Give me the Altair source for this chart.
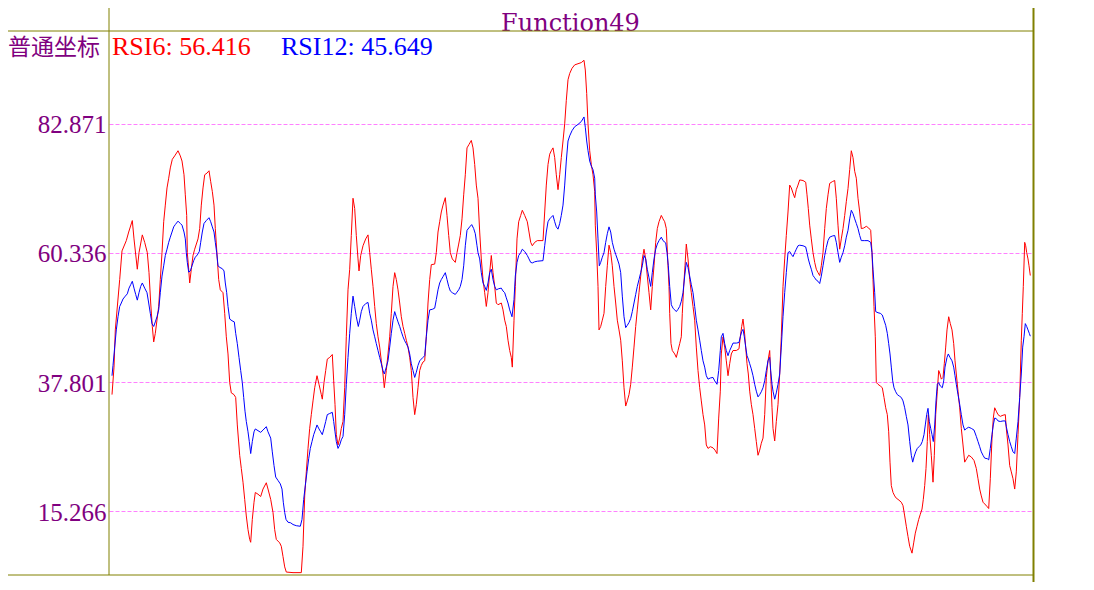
import altair as alt
import pandas as pd

title_text = "Function49"
coord_label = "普通坐标"
rsi6_label = "RSI6: 56.416"
rsi12_label = "RSI12: 45.649"
y_ticks = [82.871, 60.336, 37.801, 15.266]
y_domain = [4.086, 99.117]
t_domain = [-3, 921]

# RSI6 (red): (time step, value)
rsi6_seg1 = [(0,35.6),(2,40.4),(3.3,46.9),(7.7,55.7),(10,60.7),(14.3,62.5),(16.7,64.0),(20.3,66.0),(22,62.8),(25.3,57.5),(27,60.4),(30.3,63.5),(32.7,62.2),(35.3,60.4),(37,56.9),(38.7,51.6),(40.3,47.5),(41.7,44.8),(43.3,46.3),(46.7,51.0),(48.3,55.7),(50,60.4),(51.7,65.8),(53.3,68.7),(55,71.7),(56.7,73.4),(58.3,75.2),(60.3,76.7),(62.7,77.3),(66,78.2),(68.3,77.3),(70,76.4),(72,74.0),(73.3,70.5),(74.7,66.9),(75.3,60.4),(76.7,57.5),(77.7,55.1),(79.3,57.5),(81,59.9),(82.7,61.0),(86,62.8),(87.7,64.6),(89.3,68.7),(91,71.7),(92.7,74.0),(95,74.3),(97,74.7),(98.7,72.8),(100.3,71.1),(102,68.7),(103.3,64.6),(105.3,59.3),(106.7,55.7),(108.3,53.9),(111,53.4),(112.7,49.8),(114.3,45.7),(116,42.7),(117.7,37.7),(119.3,35.9),(122,35.6),(123.7,35.1),(125.3,30.3),(127.7,25.0),(129.3,22.7),(131,20.3),(132.7,17.3),(134.3,14.4),(136,12.0),(137.7,10.3),(138.7,9.8),(140.3,13.8),(142,16.8),(143.3,18.5),(146,18.2),(148.7,17.8),(151,19.1),(154.3,20.2),(156,19.1),(158.7,17.3),(161,15.0),(162.7,12.0),(164.3,10.3),(167.7,9.7),(169.3,9.1),(171,7.3),(172.7,5.5),(174.3,4.6)]
rsi6_seg2 = [(181,4.5),(189.3,4.5),(191,9.1),(192.7,17.9),(194.3,22.1),(196,26.2),(197.7,29.7),(199.3,32.1),(201,34.5),(202.7,36.8),(205,38.9),(207,37.4),(209.3,35.6),(210.3,34.8),(212,37.7),(213.7,39.8),(215.3,41.8),(217.7,42.1),(220.3,42.6),(221.7,38.0),(223,33.9),(224.3,28.6),(226,26.8),(227.7,28.0),(229.3,29.7),(231,30.9),(232.7,36.8),(234.3,45.7),(236,53.9),(237.7,57.5),(239.3,63.4),(241,69.9),(242.7,68.1),(244.3,63.4),(246,59.3),(247,57.2),(248.7,59.9),(251,61.6),(253.7,62.8),(256,63.5),(257.7,60.4),(259.3,57.5),(261,54.5),(262.7,51.0),(264.3,48.0),(266,45.7),(267.7,43.9),(269.3,41.5),(271,39.2),(272.3,36.8),(274.3,39.8),(276,42.7),(277.7,45.7),(279.3,49.8),(281,54.5),(282.7,56.9),(284.3,55.7),(286,53.9),(287.7,51.6),(289.3,49.2),(291,47.5),(292.7,46.3),(294.3,45.1),(296,43.9),(297.7,42.1),(299.3,39.8),(301,35.1),(302.7,32.1),(304.3,33.9),(306,36.8),(307.7,39.8),(309.3,40.7),(311,41.3),(312.7,41.5),(314.3,45.7),(316,51.6),(317.7,55.7),(319.3,58.3),(322.7,58.4),(324.3,60.4),(326,64.0),(327.7,65.8),(329.3,67.5),(331,68.7),(333.3,70.0),(335,66.9),(336.7,63.4),(338.3,60.4),(340.3,59.3),(343.3,58.7),(345,60.4),(346.7,61.9),(348.3,63.4),(350,66.3),(351.7,70.5),(353.3,74.0),(355,78.7),(357,79.3),(359.3,80.0),(361,78.7),(362.7,75.8),(364.3,72.2)]
rsi6_seg3 = [(366,69.9),(367.7,64.0),(369.3,59.3),(371,55.7),(372.7,53.4),(374.3,51.0),(376,53.4),(377.7,56.9),(379.3,59.9),(381,56.9),(382.7,54.5),(384.3,51.6),(386,51.3),(389.3,51.6),(391,50.4),(392.7,48.6),(394.3,47.5),(396,45.1),(397.7,43.3),(399.3,42.1),(400.3,40.4),(402,48.6),(403.3,54.5),(405,62.8),(406.7,65.8),(408.7,66.9),(410.3,67.8),(412.7,66.9),(415.3,65.8),(417,64.0),(418.7,62.2),(420.3,61.6),(422.7,62.2),(425.3,62.5),(431,62.5),(432.7,67.5),(434.3,72.2),(436,75.8),(437.7,77.6),(439.3,78.2),(441,78.7),(442.7,77.0),(444.3,74.0),(446,71.4),(447.7,74.0),(449.3,77.0),(451,79.9),(452.7,82.9),(454.3,87.0),(456,90.6),(457.7,91.7),(460,92.6),(462.7,93.2),(466,93.4),(469.3,93.6),(472,94.0),(473.3,92.3),(474.7,88.2),(476,82.9),(477.7,78.2),(479.3,75.8),(481,74.0),(482.7,71.1),(483.3,65.2),(484.7,60.4),(486,54.5),(487,46.9),(488.7,47.5),(490.3,48.6),(492,49.8),(493.7,54.5),(495.3,58.1),(497,61.7),(498.7,60.4),(500.3,58.1),(502,54.5),(503.7,51.6),(505.3,48.6),(507,46.9),(508.7,45.1),(510.3,41.5),(512,36.8),(513.7,33.6),(515.3,34.5),(517,35.6),(518.7,37.4),(520.3,40.4),(522,43.9),(523.7,47.5),(525.3,50.4),(527,53.4),(528.7,56.3),(530.3,59.3),(532,61.0),(533.7,59.3),(535.3,56.3),(537,53.4),(538.7,50.4),(540.3,54.5),(542,58.1),(543.7,62.2),(545.3,64.6),(547,65.8),(549.3,66.9)]
rsi6_seg4 = [(551,66.3),(552.7,65.8),(554.3,64.6),(556,58.1),(557,54.5),(557.7,49.8),(559,44.5),(560.3,43.3),(562.7,42.7),(564.3,42.1),(566,43.3),(567.7,44.5),(569.3,45.7),(570.3,49.8),(571.7,54.5),(573,58.1),(574.3,61.9),(576,59.3),(577.7,55.7),(579.3,53.4),(581,51.0),(582.7,48.6),(584.3,43.9),(586,39.8),(587.7,36.8),(589.3,34.5),(591,32.1),(592.7,30.3),(594.3,26.8),(596,26.2),(598.3,26.5),(601,26.3),(603,25.9),(605,25.3),(606.7,31.5),(608.3,36.2),(609.3,42.7),(611,45.7),(612.7,43.9),(614.3,41.5),(616,38.9),(617.7,41.0),(619.3,42.7),(621,43.3),(624.3,43.3),(627,43.6),(628.3,45.7),(629.7,47.5),(631,48.8),(632.3,46.9),(633.7,43.9),(635,41.0),(636.3,39.2),(637.7,36.2),(639.3,33.9),(641,32.1),(642.7,29.7),(644.3,27.4),(646,25.0),(647.7,25.9),(649.3,27.1),(651,28.0),(652.7,32.1),(654.3,38.6),(656,41.5),(657.7,43.3),(658.7,39.2),(660,33.3),(661,29.7),(662.7,27.5),(664.3,30.9),(666,33.9),(667.7,39.2),(669.3,45.7),(671,54.5),(672.7,59.3),(674.3,63.4),(676,67.5),(677.7,72.2),(679.3,71.7),(681,70.8),(682.7,70.0),(684.3,71.4),(686,72.2),(687.7,73.1),(691,73.0),(693.7,72.7),(695,70.5),(696.3,68.1),(697.7,65.2),(699.3,62.8),(701,60.4),(702.7,58.7),(704.3,57.5),(706,56.9),(707.7,56.4),(709.3,58.1),(711,60.4),(712.7,64.6),(714.3,68.1),(716,70.5),(717.7,72.5),(720.3,72.8),(722.7,73.0),(724.3,69.9),(726,65.2),(727.7,61.0),(729.3,62.8),(731,64.6),(732.7,66.9),(734.3,69.3)]
rsi6_seg5 = [(736,71.6),(737.7,74.9),(739.3,78.2),(741,77.0),(742.7,74.6),(744.3,73.4),(746,69.9),(747.7,67.5),(749.3,64.6),(751.7,64.7),(754.3,65.0),(756.7,64.7),(758.7,64.3),(760,60.4),(761,55.7),(762,51.0),(763.3,45.7),(764.3,37.7),(766,37.4),(768.3,37.1),(770.3,36.8),(772,35.1),(773.7,33.3),(775.3,32.1),(776.7,29.1),(778,23.8),(779.3,19.7),(781,18.5),(782.7,17.9),(784.3,17.5),(786,17.3),(789.3,16.8),(791,16.2),(792.7,14.4),(794.3,12.6),(796,10.8),(797.7,9.1),(800,7.9),(801.7,9.7),(803.3,11.4),(805,12.6),(806.7,13.8),(808.3,14.7),(810,15.6),(811.3,17.3),(812.7,19.7),(814,22.7),(815.3,27.4),(816.3,32.1),(817.7,28.6),(819.3,25.0),(821,20.3),(822.3,25.0),(823.7,32.1),(825.3,36.2),(826.7,39.8),(828,39.2),(829.3,38.3),(831,38.6),(832.3,41.0),(833.7,43.9),(835,46.9),(836.7,49.2),(838.3,48.0),(840,46.9),(841.7,44.5),(843,41.5),(844.3,39.2),(846,36.2),(847.7,33.3),(849.3,29.7),(851,26.8),(852.7,23.8),(854.7,24.4),(856.7,25.0),(859.3,24.7),(862,24.1),(864.3,22.7),(866,20.9),(867.7,19.1),(869.3,17.9),(871,16.8),(872.7,16.5),(875.3,16.0),(876.7,15.7),(878.3,20.9),(880,28.0),(881.3,31.5),(882.7,33.3),(884.3,32.7),(886,32.1),(888.3,31.8),(891,32.0),(893.3,32.1),(894.3,29.7),(896,26.8),(897.7,23.2),(899.3,22.1),(901,20.9),(902.7,19.1),(904.3,22.1),(906,28.6),(907.7,35.1),(909.3,45.1),(910.3,49.8),(911.3,54.5),(912.7,62.2),(913.7,61.6),(914.7,60.4),(916,59.3),(917,58.1),(918.3,56.4)]

# RSI12 (blue)
rsi12_seg1 = [(0,38.9),(1,40.7),(2.7,43.9),(4.3,46.9),(6,49.2),(7.7,51.0),(9.3,51.6),(11,52.3),(13.3,52.8),(15.3,53.2),(17,54.2),(18.7,54.8),(20.3,55.4),(22,54.2),(23.7,53.1),(25.3,52.1),(27,53.4),(28.7,54.5),(30.3,55.1),(32.7,54.2),(35,53.4),(36.7,51.6),(38.3,49.8),(40,48.0),(41.7,47.5),(43.3,48.3),(45,49.2),(46.7,50.4),(48.3,53.4),(50,56.3),(51.7,58.1),(53.3,59.9),(55,61.0),(56.7,62.2),(58.3,63.1),(60,64.0),(61.7,64.9),(63.3,65.3),(66,65.9),(68.3,65.5),(70,65.2),(72,64.0),(73.3,62.8),(74.3,60.4),(75.3,58.7),(76.7,57.0),(78.3,57.2),(80,58.1),(81.7,59.0),(83.3,59.6),(85.3,60.0),(87.3,60.6),(88.7,62.2),(90.3,64.0),(92,65.5),(94.3,66.0),(97,66.5),(98.7,65.8),(100.3,64.9),(102,64.0),(103.3,62.2),(104.7,60.4),(106,58.1),(108,57.8),(110.3,57.6),(112,57.2),(113.3,55.1),(114.7,53.4),(116,51.0),(117.7,48.8),(120,48.5),(122.3,48.3),(123.7,46.3),(125.3,44.5),(127,42.1),(128.7,39.8),(130.3,37.7),(131.7,35.1),(133,32.7),(134.3,30.9),(136,29.1),(137.3,27.4),(138.7,25.3),(140.3,27.4),(142,29.1),(143.3,29.6),(146,29.3),(148.7,29.0),(151,29.4),(154.3,30.0),(156,29.1),(158.7,28.0),(160.3,25.6),(162,23.2),(163.7,21.2),(166,20.6),(168.3,20.0),(170,19.1),(171.3,16.8),(172.7,15.0),(174,13.8),(176,13.3),(178.7,13.2)]
rsi12_seg2 = [(181,12.9),(184.3,12.7),(188.3,12.6),(190,13.8),(191.7,17.3),(193.3,19.7),(195,22.1),(196.7,24.4),(198.3,26.2),(200,27.4),(201.7,28.6),(203.3,29.4),(205,30.3),(207,29.6),(208.7,29.1),(210.3,28.6),(212,29.7),(213.7,30.9),(215.3,32.1),(217.7,32.3),(220.3,32.5),(221.7,30.9),(223,29.1),(224.3,27.4),(226,26.2),(227.7,26.8),(229.3,27.7),(231,28.3),(232.7,32.1),(234.3,37.4),(236,42.1),(237.7,46.3),(239.3,49.8),(241,52.8),(242.7,51.0),(244.3,49.2),(246.3,47.5),(247.7,48.6),(249.3,50.1),(251,51.0),(253.7,51.5),(256,51.7),(257.7,49.8),(259.3,48.6),(261,46.9),(262.7,45.7),(264.3,44.5),(266,43.3),(267.7,42.1),(269.3,41.0),(271,39.8),(272.3,39.2),(274.3,40.4),(276,41.5),(277.7,43.9),(279.3,46.3),(281,48.6),(282.7,50.1),(284.3,49.2),(286,48.3),(287.7,47.5),(289.3,46.6),(291,45.7),(292.7,45.0),(294.3,44.5),(296,43.9),(297.7,42.7),(299.3,41.0),(301,39.8),(302.7,38.6),(304.3,39.5),(306,40.7),(307.7,41.5),(309.3,41.8),(311,42.1),(312.7,42.4),(314.3,45.7),(316,48.6),(317.7,50.4),(320.3,50.5),(322.7,50.7),(324.3,52.2),(326,53.9),(327.7,55.1),(329.3,55.7),(331,56.2),(333.3,56.9),(335,55.7),(336.7,54.5),(338.3,53.7),(340.3,53.4),(343.3,53.1),(345,53.5),(346.7,53.9),(348.3,54.5),(350,55.7),(351.7,58.1),(353.3,61.6),(355,64.3),(357.7,64.9),(359.7,65.3),(361.7,64.6),(363.3,63.7),(365,61.6)]
rsi12_seg3 = [(366,60.4),(367.7,59.3),(369.3,56.9),(371,55.1),(372.7,54.5),(374.3,53.8),(376,55.1),(377.7,56.9),(379.3,57.5),(381,55.7),(382.7,54.5),(384.3,53.9),(386.7,54.1),(389.3,54.2),(391,53.7),(392.7,53.4),(394.3,52.5),(396,51.6),(397.7,50.4),(400,49.2),(402,52.2),(403.3,56.3),(405,58.7),(406.7,59.9),(408.7,60.4),(410.3,61.0),(412.7,60.6),(415.3,59.9),(417,59.3),(418.7,58.7),(420.3,58.6),(422.7,58.8),(425.3,58.9),(431,59.0),(432.7,61.6),(434.3,64.0),(436,65.8),(437.7,66.3),(439.3,66.6),(441,66.9),(442.7,65.8),(444.3,64.9),(446,64.5),(447.7,65.5),(449.3,66.9),(451,68.7),(452.7,72.2),(454.3,76.4),(456,79.9),(457.7,80.8),(460,81.7),(462.7,82.4),(466,82.8),(469.3,83.3),(472,84.1),(473.3,82.3),(474.7,79.9),(476,78.2),(477.7,76.4),(479.3,75.5),(481,74.9),(482.7,73.4),(483.3,70.5),(484.7,67.5),(486,62.8),(487.3,58.1),(488.7,58.7),(490.3,59.6),(492,60.4),(493.7,62.2),(495.3,63.7),(497,64.9),(498.7,64.0),(500.3,62.2),(502,61.0),(503.7,60.1),(505.3,59.3),(507,58.4),(508.7,56.9),(510.3,52.8),(512,49.2),(513.7,47.3),(515.3,47.7),(517,48.2),(518.7,48.9),(520.3,50.1),(522,51.6),(523.7,53.1),(525.3,54.5),(527,55.7),(528.7,56.9),(530.3,58.1),(532,59.9),(533.7,59.3),(535.3,57.5),(537,56.0),(538.7,54.5),(540.3,56.9),(542,59.3),(543.7,61.0),(545.3,61.9),(547,62.5),(549.3,63.1)]
rsi12_seg4 = [(551,62.5),(553.7,62.1),(555,60.4),(556.3,58.1),(557.7,54.5),(559.3,51.3),(561,50.7),(562.7,50.4),(564.3,50.1),(566,50.5),(567.7,51.0),(569.3,51.9),(571,53.4),(572.7,56.3),(574.3,58.7),(576,57.8),(577.7,56.3),(579.3,54.8),(581,53.4),(582.7,51.0),(584.3,48.6),(586,46.9),(587.7,45.1),(589.3,43.3),(591,41.5),(592.7,40.4),(594.3,38.9),(596,38.3),(598.3,38.5),(601,38.6),(602.7,38.0),(605,37.4),(606.7,39.8),(608.3,43.3),(609.3,45.7),(611,46.3),(612.7,44.5),(614.3,43.3),(616,42.4),(617.7,43.3),(619.3,43.9),(621,44.6),(624.3,44.6),(627,44.7),(628.3,45.7),(629.7,46.6),(631,47.0),(632.3,45.7),(633.7,43.9),(635,42.4),(636.3,41.8),(637.7,41.0),(639.3,40.1),(641,38.9),(642.7,37.4),(644.3,36.2),(646,35.2),(647.7,35.6),(649.3,36.1),(651,36.8),(652.7,38.0),(654.3,39.8),(656,41.5),(657.7,42.1),(658.7,39.8),(660,37.4),(661,36.2),(662.7,34.8),(664.3,35.9),(666,37.4),(667.7,39.2),(669.3,43.9),(671,49.2),(672.7,53.4),(674.3,56.9),(676,60.4),(677.7,60.6),(679.3,60.1),(681,59.7),(682.7,60.4),(684.3,61.0),(686,61.6),(687.7,61.7),(691,61.6),(693.7,61.4),(695,60.4),(696.3,59.3),(697.7,58.4),(699.3,57.5),(701,56.4),(702.7,56.0),(704.3,55.6),(706,55.4),(707.7,55.0),(709.3,56.3),(711,58.1),(712.7,59.9),(714.3,61.3),(716,62.5),(717.7,63.1),(720.3,63.3),(722.7,63.4),(724.3,62.2),(726,60.4),(727.7,58.7),(729.3,59.6),(731,60.4),(732.7,61.6),(734.3,63.1)]
rsi12_seg5 = [(736,64.3),(737.7,66.3),(739.3,67.8),(741,67.2),(742.7,66.3),(744.3,65.5),(746,64.6),(747.7,63.4),(749.3,62.5),(752.7,62.5),(756,62.5),(758.7,62.2),(760,60.4),(761,57.5),(762.7,53.4),(763.7,50.1),(766,49.9),(768.3,49.8),(770.3,49.5),(772,48.6),(773.7,47.7),(775.3,46.3),(776.7,44.5),(778,42.7),(779.3,40.4),(780.7,38.0),(782,36.8),(783.7,36.1),(785.3,35.6),(787.7,35.3),(789.3,35.1),(791,34.5),(792.7,33.3),(794.3,31.8),(796,30.3),(797.7,27.4),(799.3,25.0),(800.7,23.8),(802,24.7),(803.7,25.6),(805.3,26.2),(807,26.5),(808.7,26.8),(810.3,27.4),(812,28.6),(813.3,30.3),(814.7,32.1),(816,33.2),(817.3,30.9),(818.7,29.7),(820,28.6),(821.3,27.4),(822.7,30.3),(824,34.5),(825.3,37.4),(826.7,37.7),(828.3,37.1),(830.3,36.8),(831.7,38.0),(833,40.4),(835,42.1),(836.3,42.7),(838,42.1),(840,41.5),(841.7,40.4),(843,38.9),(844.3,37.4),(846,35.6),(847.7,33.9),(849.3,32.1),(851,30.3),(852.7,29.4),(854.7,29.7),(856.7,29.9),(859.3,29.7),(862,29.4),(864.3,28.3),(866,27.4),(867.7,26.5),(869.3,25.6),(871,25.0),(872.7,24.5),(875.3,24.4),(876.7,24.2),(878.3,26.2),(880,28.6),(881.3,30.3),(882.7,31.5),(884.3,31.4),(886,31.0),(888.3,30.9),(891,31.0),(893.3,31.0),(894.3,30.0),(896,28.6),(897.7,27.4),(899.3,26.5),(901,25.6),(902.7,25.3),(904.3,28.0),(906,30.9),(907.7,35.1),(909.3,39.2),(910.7,43.9),(912,45.7),(913.3,48.0),(914.7,47.5),(916,46.9),(917.3,46.3),(918.3,45.8)]

rsi6 = pd.DataFrame(rsi6_seg1 + rsi6_seg2 + rsi6_seg3 + rsi6_seg4 + rsi6_seg5, columns=["t", "v"])
rsi12 = pd.DataFrame(rsi12_seg1 + rsi12_seg2 + rsi12_seg3 + rsi12_seg4 + rsi12_seg5, columns=["t", "v"])

OLIVE = "#808000"
PURPLE = "#800080"
SERIF = "Liberation Serif"

x_enc = alt.X("t:Q", scale=alt.Scale(domain=t_domain, nice=False, zero=False), axis=None)
y_enc = alt.Y(
    "v:Q",
    scale=alt.Scale(domain=y_domain, nice=False, zero=False),
    axis=alt.Axis(
        values=y_ticks, format=".3f", title=None, domain=False, ticks=False,
        grid=True, gridColor="#ff80ff", gridDash=[4, 2], gridWidth=1,
        labelColor=PURPLE, labelFont=SERIF, labelFontSize=25,
        labelPadding=3, labelOffset=1, labelFlush=False,
    ),
)

red = alt.Chart(rsi6).mark_line(color="#ff0000", strokeWidth=1).encode(x=x_enc, y=y_enc)
blue = alt.Chart(rsi12).mark_line(color="#0000ff", strokeWidth=1).encode(x=x_enc, y=y_enc)


def text_layer(txt, x, y, color, font, size, align="left"):
    return alt.Chart(pd.DataFrame({"label": [txt]})).mark_text(
        align=align, baseline="alphabetic", color=color, font=font, fontSize=size
    ).encode(x=alt.value(x), y=alt.value(y), text="label:N")


def hrule(x, x2, y, width=1):
    return alt.Chart(pd.DataFrame({"k": [0]})).mark_rule(
        color=OLIVE, strokeWidth=width
    ).encode(x=alt.value(x), x2=alt.value(x2), y=alt.value(y))


def vrule(x, y, y2, width=1):
    return alt.Chart(pd.DataFrame({"k": [0]})).mark_rule(
        color=OLIVE, strokeWidth=width
    ).encode(x=alt.value(x), y=alt.value(y), y2=alt.value(y2))


layers = [
    red,
    blue,
    text_layer(title_text, 461.5, -0.5, PURPLE, "DejaVu Serif", 24, align="center"),
    text_layer(coord_label, -101, 24, PURPLE, "Noto Sans CJK SC", 23),
    text_layer(rsi6_label, 3, 24, "#ff0000", SERIF, 26),
    text_layer(rsi12_label, 172, 24, "#0000ff", SERIF, 26),
    hrule(-101, 924, 0),
    hrule(-101, 924, 544),
    vrule(0, -23, 544),
    vrule(924.5, -23, 551, 2),
]

chart = alt.layer(*layers).properties(
    width=924,
    height=544,
    padding={"left": 101, "top": 23, "right": 53, "bottom": 7},
    autosize=alt.AutoSizeParams(type="none"),
    background="white",
).configure_view(stroke=None)

chart.save("out.html", embed_options={"renderer": "svg", "actions": False})
